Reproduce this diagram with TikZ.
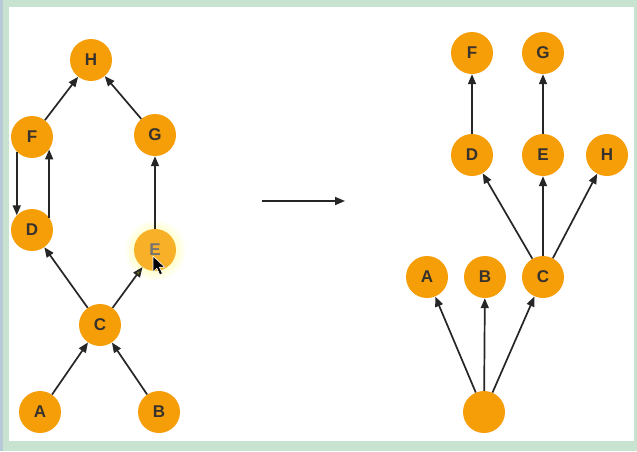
\documentclass[tikz,border=0pt]{standalone}
\usepackage{fontspec}
\setmainfont{Liberation Sans}
\usetikzlibrary{arrows.meta}
\definecolor{frame}{RGB}{200,228,208}
\definecolor{strip}{RGB}{184,200,214}
\definecolor{orng}{RGB}{245,158,8}
\definecolor{orlight}{RGB}{248,176,40}
\definecolor{txt}{RGB}{55,50,45}
\tikzset{
  vtx/.style={circle,fill=orng,minimum size=42pt,inner sep=0pt,text=txt,font=\bfseries\fontsize{17}{17}\selectfont},
  edge/.style={draw=black!85,line width=1.7pt,-{Triangle[length=10pt,width=8pt]}}
}
\begin{document}
\begin{tikzpicture}[x=1pt,y=-1pt]
\useasboundingbox (0,0) rectangle (637,451);
\fill[frame] (0,0) rectangle (637,451);
\fill[strip] (0,0) rectangle (3,451);
\fill[white] (9,7) rectangle (634,441);
% left graph
\shade[inner color=yellow!60,outer color=white] (155,250) circle (31);
\node[vtx] (lH) at (91,60) {H};
\node[vtx] (lF) at (32,137) {F};
\node[vtx] (lG) at (155,135) {G};
\node[vtx] (lD) at (32,230) {D};
\node[vtx,fill=orlight,text=black!55] (lE) at (155,250) {E};
\node[vtx] (lC) at (100,325) {C};
\node[vtx] (lA) at (40,412) {A};
\node[vtx] (lB) at (159,412) {B};
\draw[edge] (lF) -- (lH);
\draw[edge] (lG) -- (lH);
\draw[edge] (lF.224) -- (lD.136);
\draw[edge] (lD.36) -- (lF.324);
\draw[edge] (lE) -- (lG);
\draw[edge] (lC) -- (lD);
\draw[edge,-{Triangle[length=10pt,width=8pt,fill=olive!70!black]}] (lC) -- (lE);
\draw[edge] (lA) -- (lC);
\draw[edge] (lB) -- (lC);
% cursor
\draw[fill=black,draw=white,line width=0.6pt,line join=round] (153,256) -- ++(0,16) -- ++(3.8,-3.8) -- ++(3,6.5) -- ++(2.6,-1.2) -- ++(-3,-6.3) -- ++(5.4,0) -- cycle;
% middle arrow
\coordinate (m1) at (262,201);
\coordinate (m2) at (345,201);
\draw[edge] (m1) -- (m2);
% right graph
\node[vtx] (rF) at (472,53) {F};
\node[vtx] (rG) at (543,53) {G};
\node[vtx] (rD) at (472,155) {D};
\node[vtx] (rE) at (543,155) {E};
\node[vtx] (rH) at (607,155) {H};
\node[vtx] (rA) at (427,277) {A};
\node[vtx] (rB) at (485,277) {B};
\node[vtx] (rC) at (543,277) {C};
\node[vtx] (rR) at (484,412) {};
\draw[edge] (rD) -- (rF);
\draw[edge] (rE) -- (rG);
\draw[edge] (rC) -- (rD);
\draw[edge] (rC) -- (rE);
\draw[edge] (rC) -- (rH);
\draw[edge] (rR) -- (rA);
\draw[edge] (rR) -- (rB);
\draw[edge] (rR) -- (rC);
\end{tikzpicture}
\end{document}
